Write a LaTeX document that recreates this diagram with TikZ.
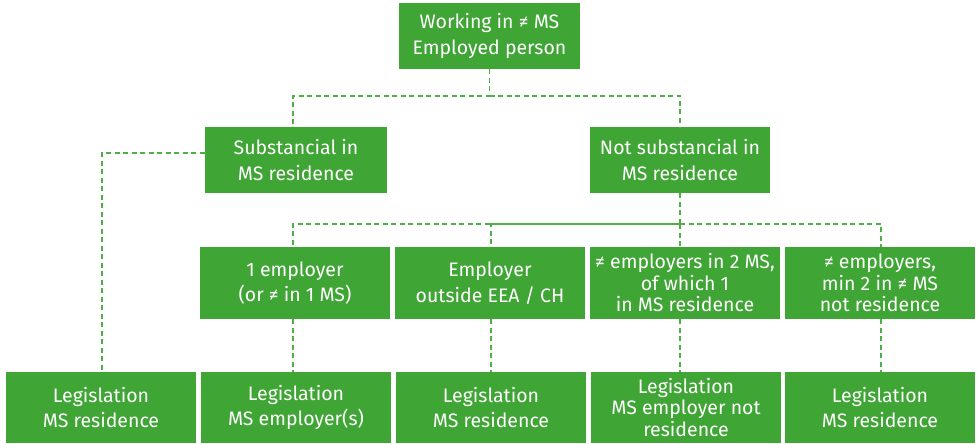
\documentclass[tikz,border=0pt]{standalone}
\usepackage{fontspec}
\setmainfont{Fira Sans}
\definecolor{boxgreen}{RGB}{63,165,53}
\definecolor{linegreen}{RGB}{80,175,70}
\begin{document}
\begin{tikzpicture}[x=1pt,y=-1pt,
  box/.style={fill=boxgreen,text=white,align=center,inner sep=0pt,
    font=\fontsize{19.5}{25.5}\selectfont},
  tight/.style={font=\fontsize{19.5}{21.5}\selectfont},
  conn/.style={draw=linegreen,line width=1.6pt,dash pattern=on 5pt off 3.5pt}]
\useasboundingbox (0,0) rectangle (978,444);
\node[box,minimum width=181pt,minimum height=66pt] (top) at (489.5,36) {Working in ≠ MS\\Employed person};
\node[box,minimum width=182pt,minimum height=66pt] (sub) at (296,160) {Substancial in\\MS residence};
\node[box,minimum width=180pt,minimum height=66pt] (nsub) at (680,160) {Not substancial in\\MS residence};
\node[box,minimum width=190pt,minimum height=72pt] (a) at (295,283) {1 employer\\(or ≠ in 1 MS)};
\node[box,minimum width=190pt,minimum height=72pt] (b) at (490,283) {Employer\\outside EEA / CH};
\node[box,tight,minimum width=190pt,minimum height=72pt] (c) at (685,283) {≠ employers in 2 MS,\\of which 1\\in MS residence};
\node[box,tight,minimum width=190pt,minimum height=72pt] (d) at (880,283) {≠ employers,\\min 2 in ≠ MS\\not residence};
\node[box,minimum width=190pt,minimum height=71pt] (l1) at (101,407.5) {Legislation\\MS residence};
\node[box,minimum width=190pt,minimum height=71pt] (l2) at (296,407.5) {Legislation\\MS employer(s)};
\node[box,minimum width=190pt,minimum height=71pt] (l3) at (491,407.5) {Legislation\\MS residence};
\node[box,tight,minimum width=190pt,minimum height=71pt] (l4) at (686,407.5) {Legislation\\MS employer not\\residence};
\node[box,minimum width=190pt,minimum height=71pt] (l5) at (880,407.5) {Legislation\\MS residence};
\coordinate (j1) at (489.5,96);
\coordinate (j2) at (680,224);
\draw[conn] (top.south) -- (j1) -| ([xshift=-3pt]sub.north);
\draw[conn] (j1) -| (nsub.north);
\draw[conn] ([yshift=7pt]sub.west) -| ([xshift=1pt]l1.north);
\draw[conn] (nsub.south) -- (j2) -| ([xshift=-2pt]a.north);
\draw[conn] (j2) -| ([xshift=1pt]b.north);
\draw[conn] (j2) -- ([xshift=-5pt]c.north);
\draw[conn] (j2) -| ([xshift=1pt]d.north);
\draw[conn] ([xshift=-2pt]a.south) -- ([xshift=-3pt]l2.north);
\draw[conn] ([xshift=1pt]b.south) -- (l3.north);
\draw[conn] ([xshift=-5pt]c.south) -- ([xshift=-6pt]l4.north);
\draw[conn] ([xshift=1pt]d.south) -- ([xshift=1pt]l5.north);
\end{tikzpicture}
\end{document}
